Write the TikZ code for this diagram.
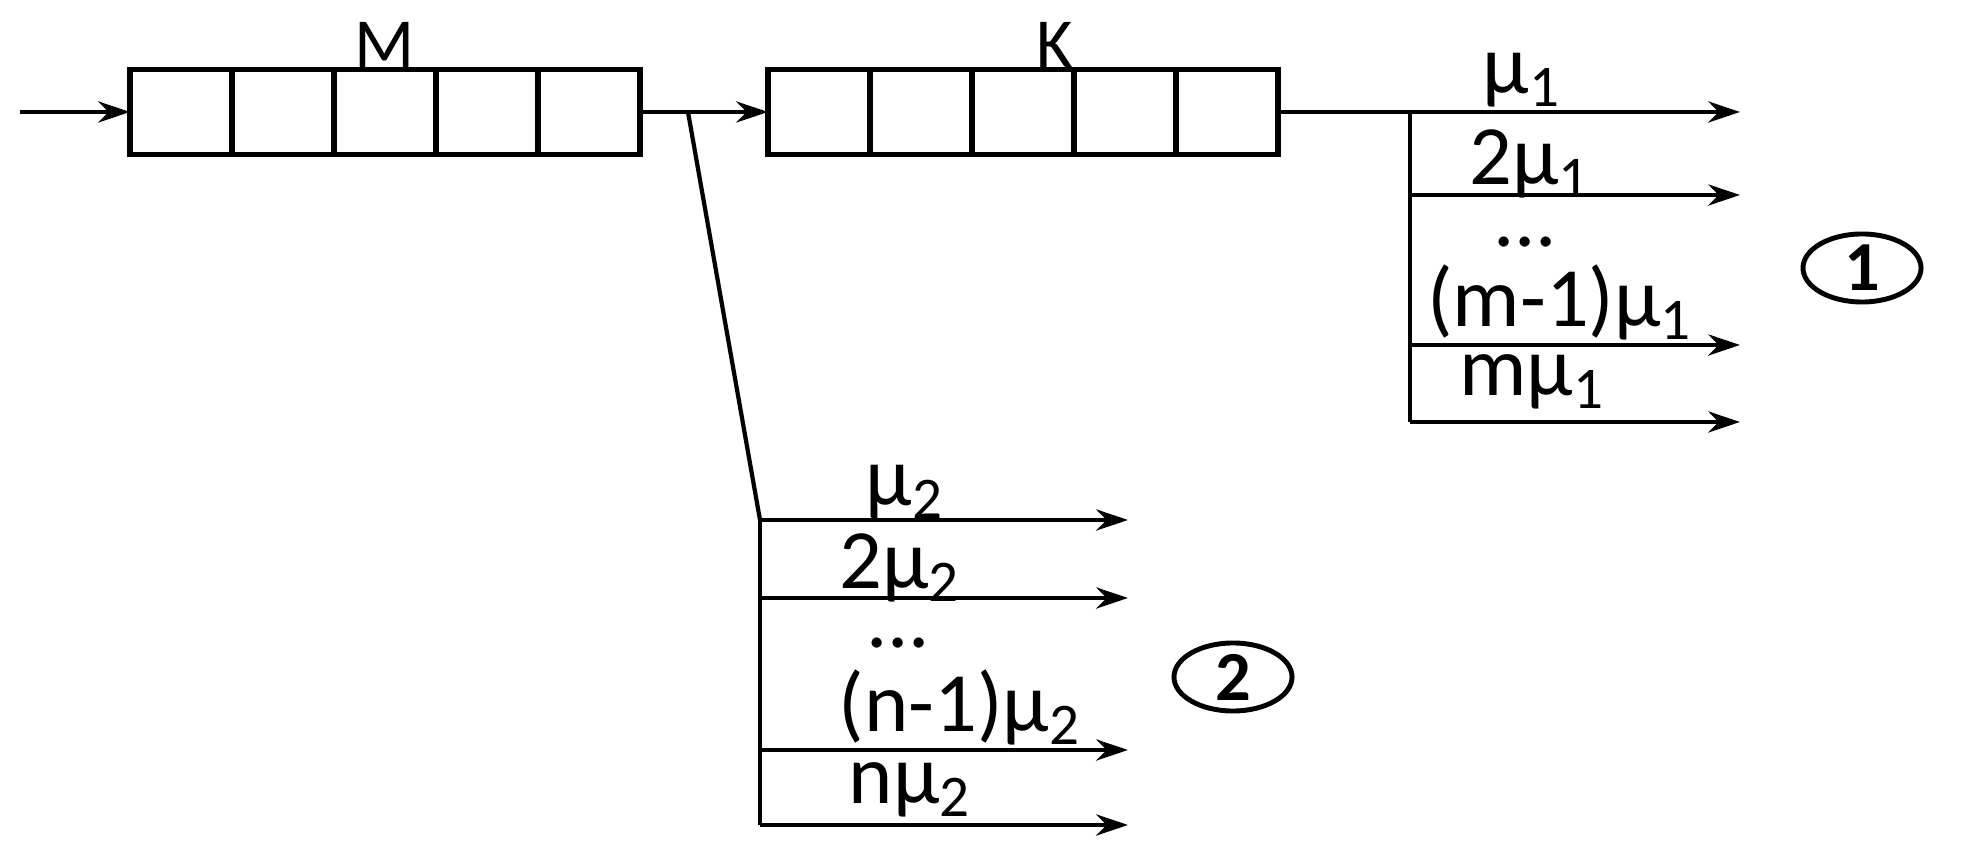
\documentclass[tikz,border=0pt]{standalone}
\usepackage{fontspec}
\setmainfont{Carlito}
\usetikzlibrary{arrows.meta,shapes.geometric}
\begin{document}
\begin{tikzpicture}[x=0.01cm,y=-0.01cm,
  ln/.style={line width=1.2pt},
  arr/.style={ln,-{Stealth[length=9pt,width=6pt]}},
  cell/.style={draw,line width=1.6pt,minimum width=1.02cm,minimum height=0.85cm,inner sep=0,outer sep=0},
  lab/.style={font=\fontsize{24}{26}\selectfont,inner sep=0},
  ttl/.style={font=\fontsize{20}{22}\selectfont,inner sep=0},
  circ/.style={draw,ellipse,line width=1.4pt,inner sep=0,minimum width=1.18cm,minimum height=0.68cm,font=\bfseries\fontsize{20}{22}\selectfont}]
\useasboundingbox (0,0) rectangle (1961,862);
\foreach \i in {0,...,4}{
  \node[cell] (m\i) at ({181+102*\i},112) {};
  \node[cell] (k\i) at ({819+102*\i},112) {};
}
\node[ttl] (M) at (385,45) {M};
\node[ttl] (K) at (1055,45) {K};
\coordinate (in) at (20,112);
\draw[arr] (in) -- (m0.west);
\coordinate (s) at (688,112);
\draw[arr] (m4.east) -- (k0.west);
\coordinate (b0) at (760,520);
\draw[ln] (s) -- (b0);
% right outputs
\coordinate (a0) at (1410,112);
\coordinate (a3) at (1410,422);
\draw[ln] (a0) -- (a3);
\coordinate (e0) at (1740,112);
\draw[arr] (k4.east) -- (e0);
\foreach \y/\n in {195/1,345/2,422/3}{
  \coordinate (aa\n) at (1410,\y);
  \coordinate (ae\n) at (1740,\y);
  \draw[arr] (aa\n) -- (ae\n);
}
\node[lab] (l1) at (1522,80) {μ\textsubscript{1}};
\node[lab] (l2) at (1530,164) {2μ\textsubscript{1}};
\node[lab] (l3) at (1525,242) {...};
\node[lab] (l4) at (1560,302) {(m-1)μ\textsubscript{1}};
\node[lab] (l5) at (1532,382) {mμ\textsubscript{1}};
\node[circ] (c1) at (1862,268) {1};
% bottom outputs
\coordinate (b3) at (760,825);
\draw[ln] (b0) -- (b3);
\foreach \y/\n in {520/0,598/1,750/2,825/3}{
  \coordinate (bb\n) at (760,\y);
  \coordinate (be\n) at (1128,\y);
  \draw[arr] (bb\n) -- (be\n);
}
\node[lab] (n1) at (905,492) {μ\textsubscript{2}};
\node[lab] (n2) at (900,568) {2μ\textsubscript{2}};
\node[lab] (n3) at (898,643) {...};
\node[lab] (n4) at (960,707) {(n-1)μ\textsubscript{2}};
\node[lab] (n5) at (910,790) {nμ\textsubscript{2}};
\node[circ] (c2) at (1233,677) {2};
\end{tikzpicture}
\end{document}
